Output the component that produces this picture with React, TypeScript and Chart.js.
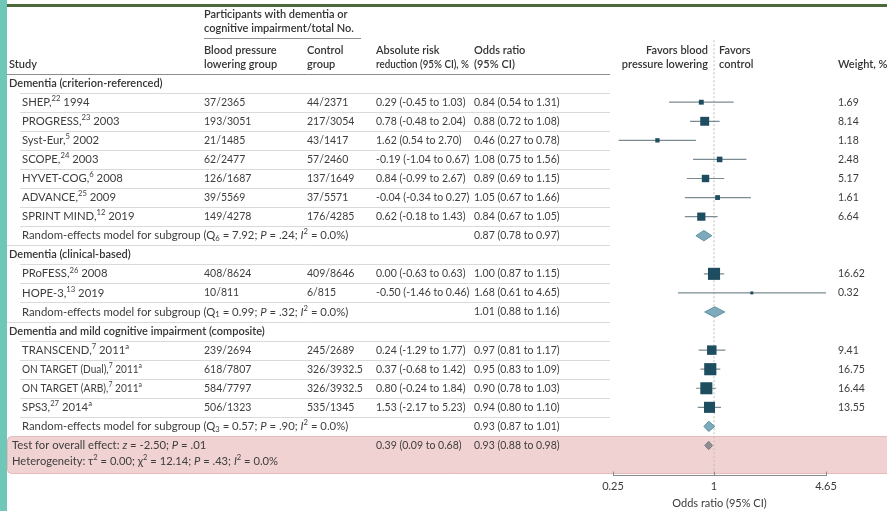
import React, { useEffect, useRef } from "react";
import { Chart, registerables } from "chart.js";

Chart.register(...registerables);

const FONT = "Lato";

const groupTitles = [
  "Dementia (criterion-referenced)",
  "Dementia (clinical-based)",
  "Dementia and mild cognitive impairment (composite)",
];
const studyLabels = [
  "SHEP,^{22} 1994",
  "PROGRESS,^{23} 2003",
  "Syst-Eur,^{5} 2002",
  "SCOPE,^{24} 2003",
  "HYVET-COG,^{6} 2008",
  "ADVANCE,^{25} 2009",
  "SPRINT MIND,^{12} 2019",
  "PRoFESS,^{26} 2008",
  "HOPE-3,^{13} 2019",
  "TRANSCEND,^{7} 2011^{a}",
  "ON TARGET (Dual),^{7} 2011^{a}",
  "ON TARGET (ARB),^{7} 2011^{a}",
  "SPS3,^{27} 2014^{a}",
];
const studyGroup = [0, 0, 0, 0, 0, 0, 0, 1, 1, 2, 2, 2, 2];
const bpEvents = ["37/2365", "193/3051", "21/1485", "62/2477", "126/1687", "39/5569", "149/4278", "408/8624", "10/811", "239/2694", "618/7807", "584/7797", "506/1323"];
const controlEvents = ["44/2371", "217/3054", "43/1417", "57/2460", "137/1649", "37/5571", "176/4285", "409/8646", "6/815", "245/2689", "326/3932.5", "326/3932.5", "535/1345"];
const arrEst = [0.29, 0.78, 1.62, -0.19, 0.84, -0.04, 0.62, 0.0, -0.5, 0.24, 0.37, 0.8, 1.53];
const arrLow = [-0.45, -0.48, 0.54, -1.04, -0.99, -0.34, -0.18, -0.63, -1.46, -1.29, -0.68, -0.24, -2.17];
const arrHigh = [1.03, 2.04, 2.7, 0.67, 2.67, 0.27, 1.43, 0.63, 0.46, 1.77, 1.42, 1.84, 5.23];
const orEst = [0.84, 0.88, 0.46, 1.08, 0.89, 1.05, 0.84, 1.0, 1.68, 0.97, 0.95, 0.9, 0.94];
const orLow = [0.54, 0.72, 0.27, 0.75, 0.69, 0.67, 0.67, 0.87, 0.61, 0.81, 0.83, 0.78, 0.8];
const orHigh = [1.31, 1.08, 0.78, 1.56, 1.15, 1.66, 1.05, 1.15, 4.65, 1.17, 1.09, 1.03, 1.1];
const weights = [1.69, 8.14, 1.18, 2.48, 5.17, 1.61, 6.64, 16.62, 0.32, 9.41, 16.75, 16.44, 13.55];

const subgroupStats = [
  "Q_{6} = 7.92; *P* = .24; *I*^{2} = 0.0%",
  "Q_{1} = 0.99; *P* = .32; *I*^{2} = 0.0%",
  "Q_{3} = 0.57; *P* = .90; *I*^{2} = 0.0%",
];
const subgroupOr = [0.87, 1.01, 0.93];
const subgroupLow = [0.78, 0.88, 0.87];
const subgroupHigh = [0.97, 1.16, 1.01];

const overallArr = [0.39, 0.09, 0.68];
const overallOr = [0.93, 0.88, 0.98];
const overallTest = "Test for overall effect: *z* = -2.50; *P* = .01";
const heterogeneity = "Heterogeneity: τ^{2} = 0.00; χ^{2} = 12.14; *P* = .43; *I*^{2} = 0.0%";

const xTicks = [0.25, 1, 4.65];

type Row =
  | { kind: "group"; g: number }
  | { kind: "study"; s: number }
  | { kind: "subgroup"; g: number }
  | { kind: "overall" };

const rows: Row[] = [];
groupTitles.forEach((_, g) => {
  rows.push({ kind: "group", g });
  studyGroup.forEach((sg, s) => {
    if (sg === g) rows.push({ kind: "study", s });
  });
  rows.push({ kind: "subgroup", g });
});
rows.push({ kind: "overall" });

const studyRow = (s: number) => rows.findIndex((r) => r.kind === "study" && r.s === s);
const subRow = (g: number) => rows.findIndex((r) => r.kind === "subgroup" && r.g === g);
const overallRow = rows.length - 1;

const fmt = (v: number) => v.toFixed(2);
const ci = (e: number, l: number, h: number) => `${fmt(e)} (${fmt(l)} to ${fmt(h)})`;

type Seg = { t: string; mode: "n" | "sup" | "sub"; italic: boolean };
function parseRich(s: string): Seg[] {
  const segs: Seg[] = [];
  let buf = "";
  let italic = false;
  let i = 0;
  const flush = () => {
    if (buf) segs.push({ t: buf, mode: "n", italic });
    buf = "";
  };
  while (i < s.length) {
    const c = s[i];
    if ((c === "^" || c === "_") && s[i + 1] === "{") {
      flush();
      const end = s.indexOf("}", i);
      segs.push({ t: s.slice(i + 2, end), mode: c === "^" ? "sup" : "sub", italic });
      i = end + 1;
      continue;
    }
    if (c === "*") {
      flush();
      italic = !italic;
      i++;
      continue;
    }
    buf += c;
    i++;
  }
  flush();
  return segs;
}

type TextOpts = {
  size?: number;
  weight?: string;
  color?: string;
  align?: "left" | "right" | "center";
  maxWidth?: number;
};

function drawRich(ctx: CanvasRenderingContext2D, s: string, x: number, y: number, opts: TextOpts = {}) {
  const size = opts.size ?? 11.3;
  const weight = opts.weight ?? "normal";
  const segs = parseRich(s);
  const fontFor = (sg: Seg) =>
    `${sg.italic ? "italic " : ""}${weight} ${sg.mode === "n" ? size : size * 0.68}px ${FONT}`;
  const widths = segs.map((sg) => {
    ctx.font = fontFor(sg);
    return ctx.measureText(sg.t).width;
  });
  const natural = widths.reduce((a, b) => a + b, 0);
  const k = opts.maxWidth && natural > opts.maxWidth ? opts.maxWidth / natural : 1;
  const total = natural * k;
  let x0 = x;
  if (opts.align === "right") x0 = x - total;
  if (opts.align === "center") x0 = x - total / 2;
  ctx.save();
  ctx.translate(x0, y);
  ctx.scale(k, 1);
  ctx.fillStyle = opts.color ?? "#3d3d3d";
  ctx.textBaseline = "middle";
  ctx.textAlign = "left";
  let cx = 0;
  segs.forEach((sg, j) => {
    ctx.font = fontFor(sg);
    const dy = sg.mode === "sup" ? -size * 0.33 : sg.mode === "sub" ? size * 0.25 : 0;
    ctx.fillText(sg.t, cx, dy);
    cx += widths[j];
  });
  ctx.restore();
}

const COL = { study: 9, indent: 22, bp: 204, ctrl: 307, arr: 376, or: 474, orEnd: 610, weight: 838, left: 7 };
const NUM_SIZE = 10.5;

const tablePlugin = {
  id: "forestTable",
  beforeDraw(chart: any) {
    const { ctx, width, height } = chart;
    const ys = chart.scales.y;
    const Y = (v: number) => ys.getPixelForValue(v);
    ctx.save();
    ctx.fillStyle = "#ffffff";
    ctx.fillRect(0, 0, width, height);
    // left stripe
    ctx.fillStyle = "#6ec7b7";
    ctx.fillRect(0, 0, 7, height);
    // top rule
    ctx.fillStyle = "#4c6a3c";
    ctx.fillRect(7, 4, width - 7, 3);
    // pink band
    const bt = Y(overallRow - 0.52);
    const bb = Y(overallRow + 1.42);
    ctx.fillStyle = "#f1d2d3";
    ctx.strokeStyle = "#e6b9bc";
    ctx.lineWidth = 1;
    ctx.beginPath();
    (ctx as any).roundRect(COL.left + 0.5, Math.round(bt) + 0.5, width - COL.left + 10, bb - bt, 4);
    ctx.fill();
    ctx.stroke();
    // header rules
    ctx.strokeStyle = "#8d8d8d";
    ctx.beginPath();
    ctx.moveTo(COL.bp, Math.round(Y(-2.37)) + 0.5);
    ctx.lineTo(361, Math.round(Y(-2.37)) + 0.5);
    ctx.moveTo(COL.left, Math.round(Y(-0.5)) + 0.5);
    ctx.lineTo(COL.orEnd, Math.round(Y(-0.5)) + 0.5);
    ctx.stroke();
    // row separators
    ctx.strokeStyle = "#dadada";
    ctx.beginPath();
    for (let i = 0; i < overallRow - 1; i++) {
      const next = rows[i + 1];
      const x0 = next.kind === "group" ? COL.left : 20;
      const y = Math.round(Y(i + 0.5)) + 0.5;
      ctx.moveTo(x0, y);
      ctx.lineTo(COL.orEnd, y);
    }
    ctx.stroke();
    ctx.restore();
  },
  afterDraw(chart: any) {
    const { ctx } = chart;
    const ys = chart.scales.y;
    const xs = chart.scales.x;
    const Y = (v: number) => ys.getPixelForValue(v);
    ctx.save();
    const hdr: TextOpts = { weight: "600", color: "#343434", size: 11 };
    drawRich(ctx, "Participants with dementia or", COL.bp, Y(-3.58), hdr);
    drawRich(ctx, "cognitive impairment/total No.", COL.bp, Y(-2.85), hdr);
    drawRich(ctx, "Blood pressure", COL.bp, Y(-1.74), hdr);
    drawRich(ctx, "lowering group", COL.bp, Y(-1), hdr);
    drawRich(ctx, "Control", COL.ctrl, Y(-1.74), hdr);
    drawRich(ctx, "group", COL.ctrl, Y(-1), hdr);
    drawRich(ctx, "Absolute risk", COL.arr, Y(-1.74), hdr);
    drawRich(ctx, "reduction (95% CI), %", COL.arr, Y(-1), { ...hdr, maxWidth: 93 });
    drawRich(ctx, "Odds ratio", COL.or, Y(-1.74), hdr);
    drawRich(ctx, "(95% CI)", COL.or, Y(-1), hdr);
    drawRich(ctx, "Study", COL.study, Y(-1), hdr);
    const x1 = xs.getPixelForValue(1);
    drawRich(ctx, "Favors blood", x1 - 6, Y(-1.74), { ...hdr, align: "right" });
    drawRich(ctx, "pressure lowering", x1 - 6, Y(-1), { ...hdr, align: "right" });
    drawRich(ctx, "Favors", x1 + 5, Y(-1.74), hdr);
    drawRich(ctx, "control", x1 + 5, Y(-1), hdr);
    drawRich(ctx, "Weight, %", COL.weight, Y(-1), hdr);

    const num: TextOpts = { size: NUM_SIZE };
    rows.forEach((r, i) => {
      const y = Y(i);
      if (r.kind === "group") {
        drawRich(ctx, groupTitles[r.g], COL.study, y, hdr);
      } else if (r.kind === "study") {
        const s = r.s;
        drawRich(ctx, studyLabels[s], COL.indent, y, { maxWidth: 120 });
        drawRich(ctx, bpEvents[s], COL.bp, y, num);
        drawRich(ctx, controlEvents[s], COL.ctrl, y, num);
        drawRich(ctx, ci(arrEst[s], arrLow[s], arrHigh[s]), COL.arr, y, num);
        drawRich(ctx, ci(orEst[s], orLow[s], orHigh[s]), COL.or, y, num);
        drawRich(ctx, fmt(weights[s]), COL.weight, y, num);
      } else if (r.kind === "subgroup") {
        drawRich(ctx, `Random-effects model for subgroup (${subgroupStats[r.g]})`, COL.indent, y, { maxWidth: 327 });
        drawRich(ctx, ci(subgroupOr[r.g], subgroupLow[r.g], subgroupHigh[r.g]), COL.or, y, num);
      } else {
        drawRich(ctx, overallTest, 12, y);
        drawRich(ctx, heterogeneity, 12, y + 16, { maxWidth: 266 });
        drawRich(ctx, ci(overallArr[0], overallArr[1], overallArr[2]), COL.arr, y, num);
        drawRich(ctx, ci(overallOr[0], overallOr[1], overallOr[2]), COL.or, y, num);
      }
    });

    // upward axis ticks
    ctx.strokeStyle = "#8a8a8a";
    ctx.lineWidth = 1;
    ctx.beginPath();
    const by = chart.chartArea.bottom;
    xTicks.forEach((v) => {
      const x = Math.round(xs.getPixelForValue(v)) + 0.5;
      ctx.moveTo(x, by);
      ctx.lineTo(x, by - 4);
    });
    ctx.stroke();
    ctx.restore();
  },
};

export default function App() {
  const ref = useRef<HTMLCanvasElement>(null);
  useEffect(() => {
    document.body.style.margin = "0";
    const canvas = ref.current;
    if (!canvas) return;

    const ciData: any[] = [];
    orEst.forEach((_, s) => {
      const y = studyRow(s);
      ciData.push({ x: orLow[s], y }, { x: orHigh[s], y }, { x: null, y: null });
    });
    const squareData = orEst.map((v, s) => ({ x: v, y: studyRow(s) }));
    const squareRadius = weights.map((w) => (1.5 + 2.6 * Math.sqrt(w)) / Math.SQRT2);

    const diamond = (e: number, l: number, h: number, y: number, hh: number) => [
      { x: l, y },
      { x: e, y: y - hh },
      { x: h, y },
      { x: e, y: y + hh },
      { x: l, y },
    ];
    const subDiamonds = subgroupOr.map((e, g) => ({
      type: "line",
      data: diamond(e, subgroupLow[g], subgroupHigh[g], subRow(g), 0.27),
      borderColor: "#5f93a4",
      backgroundColor: "#7eaabb",
      borderWidth: 1,
      fill: "shape",
      pointRadius: 0,
      tension: 0,
      clip: false,
    }));
    const overallDiamond = {
      type: "line",
      data: diamond(overallOr[0], overallOr[1], overallOr[2], overallRow, 0.22),
      borderColor: "#7f7f82",
      backgroundColor: "#8f8e92",
      borderWidth: 1,
      fill: "shape",
      pointRadius: 0,
      tension: 0,
      clip: false,
    };

    const chart = new Chart(canvas, {
      type: "scatter",
      data: {
        datasets: [
          {
            type: "scatter",
            data: squareData,
            pointStyle: "rect",
            pointRadius: squareRadius,
            pointBackgroundColor: "#1f4d60",
            pointBorderColor: "#1f4d60",
            pointBorderWidth: 0,
            clip: false,
          } as any,
          ...subDiamonds,
          overallDiamond,
          {
            type: "scatter",
            data: ciData,
            showLine: true,
            spanGaps: false,
            borderColor: "#7b8b92",
            borderWidth: 1.2,
            pointRadius: 0,
            clip: false,
          },
          {
            type: "scatter",
            data: [
              { x: 1, y: -2.25 },
              { x: 1, y: 20.58 },
            ],
            showLine: true,
            borderColor: "#bdbdbd",
            borderWidth: 1,
            borderDash: [2, 2],
            pointRadius: 0,
            clip: false,
          },
        ] as any,
      },
      options: {
        responsive: true,
        maintainAspectRatio: false,
        animation: false,
        events: [],
        layout: { padding: { left: 613, right: 61, top: 37, bottom: 1 } },
        plugins: { legend: { display: false }, tooltip: { enabled: false } },
        scales: {
          x: {
            type: "logarithmic",
            min: 0.25,
            max: 4.65,
            afterBuildTicks: (s: any) => {
              s.ticks = xTicks.map((v) => ({ value: v }));
            },
            grid: { display: false, drawTicks: false },
            border: { display: true, color: "#8a8a8a", width: 1 },
            ticks: {
              color: "#3b3b3b",
              font: { family: FONT, size: 11 },
              padding: 4,
              autoSkip: false,
              maxRotation: 0,
              callback: (v: any) => String(v),
            },
            title: {
              display: true,
              text: "Odds ratio (95% CI)",
              color: "#3b3b3b",
              font: { family: FONT, size: 11 },
              padding: { top: 0, bottom: 0 },
            },
          },
          y: { type: "linear", reverse: true, min: -2.42, max: 20.58, display: false },
        },
      } as any,
      plugins: [tablePlugin],
    });
    return () => chart.destroy();
  }, []);

  return (
    <div style={{ width: 887, height: 511, position: "relative" }}>
      <canvas ref={ref} />
    </div>
  );
}
